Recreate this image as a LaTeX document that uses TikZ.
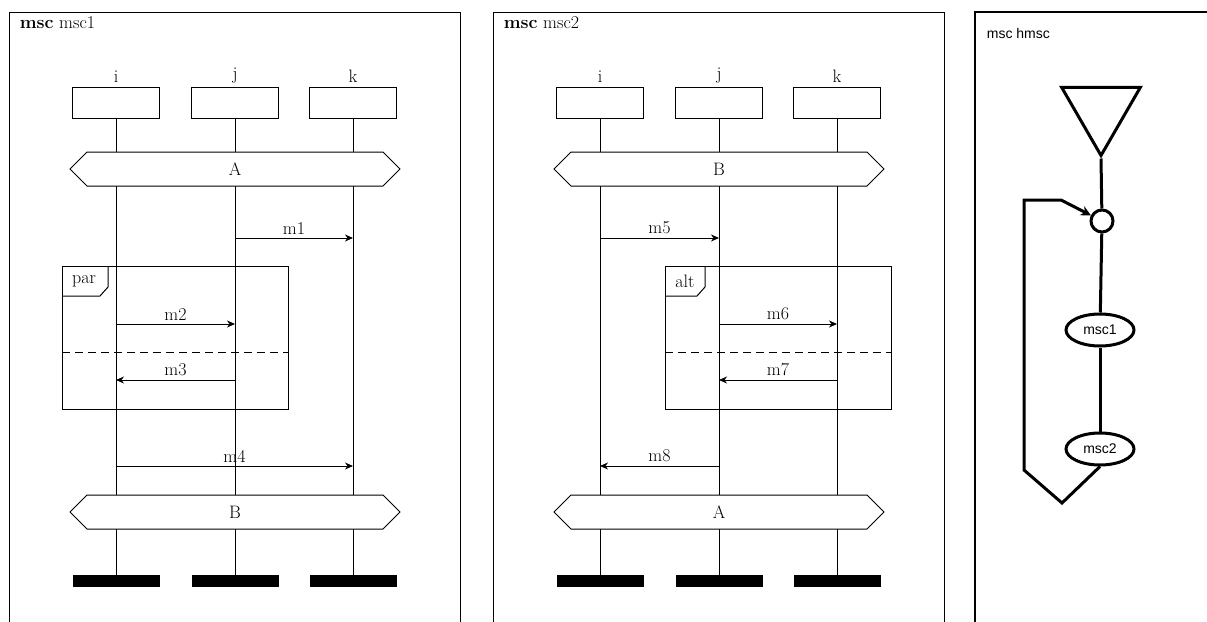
\documentclass[tikz,border=0pt]{standalone}
\usepackage{fontspec}
\newfontfamily\hfont{Liberation Sans}
\usetikzlibrary{arrows.meta,shapes.geometric,shapes.symbols}

\begin{document}
\begin{tikzpicture}[x=1pt,y=-1pt,line width=1pt,
	font=\fontsize{18}{20}\selectfont,
	inst/.style={draw,minimum width=87pt,minimum height=31pt,inner sep=0pt},
	endbar/.style={fill=black,minimum width=87pt,minimum height=12pt,inner sep=0pt},
	cond/.style={draw,fill=white,signal,signal to=west and east,minimum width=330pt,minimum height=34pt,inner sep=0pt},
	msg/.style={-{Stealth[length=8pt,width=7pt,inset=2.5pt]}},
	sep/.style={dash pattern=on 8pt off 5pt},
	hm/.style={line width=3pt},
	htext/.style={font=\hfont\fontsize{14}{16}\selectfont}]
	\useasboundingbox (0,0) rectangle (1207,621);
	\clip (0,0) rectangle (1207,621);

	% msc1
	\draw (9,12) rectangle (460,640);
	\node[anchor=west] (t1) at (16,23) {\textbf{msc} msc1};
	\node[inst,label=above:i] (i1) at (116,102.5) {};
	\node[inst,label=above:j] (j1) at (235,102.5) {};
	\node[inst,label=above:k] (k1) at (353,102.5) {};
	\node[endbar] (ie1) at (116,581) {};
	\node[endbar] (je1) at (235,581) {};
	\node[endbar] (ke1) at (353,581) {};
	\draw (i1) -- (ie1);
	\draw (j1) -- (je1);
	\draw (k1) -- (ke1);
	\node[cond] (ca1) at (235,169) {A};
	\node[cond] (cb1) at (235,512) {B};

	\coordinate (m1a) at (235,238);
	\coordinate (m1b) at (353,238);
	\coordinate (m2a) at (116,324);
	\coordinate (m2b) at (235,324);
	\coordinate (m3a) at (235,380);
	\coordinate (m3b) at (116,380);
	\coordinate (m4a) at (116,466);
	\coordinate (m4b) at (353,466);
	\draw[msg] (m1a) to node [above] {m1} (m1b);
	\draw[msg] (m2a) to node [above] {m2} (m2b);
	\draw[msg] (m3a) to node [above] {m3} (m3b);
	\draw[msg] (m4a) to node [above] {m4} (m4b);

	\draw (62,266) rectangle (288,409);
	\draw[sep] (62,352) -- (288,352);
	\draw (62,296) -- (100,296) -- (108,287) -- (108,266);
	\node (par1) at (84,281) {par};

	% msc2
	\draw (493,12) rectangle (944,640);
	\node[anchor=west] (t2) at (500,23) {\textbf{msc} msc2};
	\node[inst,label=above:i] (i2) at (600,102.5) {};
	\node[inst,label=above:j] (j2) at (719,102.5) {};
	\node[inst,label=above:k] (k2) at (837,102.5) {};
	\node[endbar] (ie2) at (600,581) {};
	\node[endbar] (je2) at (719,581) {};
	\node[endbar] (ke2) at (837,581) {};
	\draw (i2) -- (ie2);
	\draw (j2) -- (je2);
	\draw (k2) -- (ke2);
	\node[cond] (cb2) at (719,169) {B};
	\node[cond] (ca2) at (719,512) {A};

	\coordinate (m5a) at (600,238);
	\coordinate (m5b) at (719,238);
	\coordinate (m6a) at (719,324);
	\coordinate (m6b) at (837,324);
	\coordinate (m7a) at (837,380);
	\coordinate (m7b) at (719,380);
	\coordinate (m8a) at (719,466);
	\coordinate (m8b) at (600,466);
	\draw[msg] (m5a) to node [above] {m5} (m5b);
	\draw[msg] (m6a) to node [above] {m6} (m6b);
	\draw[msg] (m7a) to node [above] {m7} (m7b);
	\draw[msg] (m8a) to node [above] {m8} (m8b);

	\draw (665,266) rectangle (891,409);
	\draw[sep] (665,352) -- (891,352);
	\draw (665,296) -- (697,296) -- (705,287) -- (705,266);
	\node (alt2) at (685,281) {alt};

	% hmsc
	\draw[line width=2pt] (975,12) rectangle (1230,640);
	\node[htext,anchor=west] (t3) at (983,33) {msc hmsc};
	\node[draw,hm,regular polygon,regular polygon sides=3,shape border rotate=180,minimum size=91pt,inner sep=0pt] (start) at (1101,110) {};
	\node[draw,hm,circle,minimum size=22pt,inner sep=0pt] (conn) at (1102,221) {};
	\node[draw,hm,ellipse,minimum width=68pt,minimum height=32pt,inner sep=0pt,htext] (h1) at (1100,330) {msc1};
	\node[draw,hm,ellipse,minimum width=68pt,minimum height=32pt,inner sep=0pt,htext] (h2) at (1100,449) {msc2};
	\draw[hm] (start.corner 1) -- (conn);
	\draw[hm] (conn) -- (h1);
	\draw[hm] (h1) -- (h2);
	\coordinate (lp1) at (1062,503);
	\coordinate (lp2) at (1024,470);
	\coordinate (lp3) at (1024,200);
	\coordinate (lp4) at (1061,200);
	\draw[hm,-{Stealth[length=10pt,width=10pt]}] (h2.south) -- (lp1) -- (lp2) -- (lp3) -- (lp4) -- (conn);
\end{tikzpicture}
\end{document}
